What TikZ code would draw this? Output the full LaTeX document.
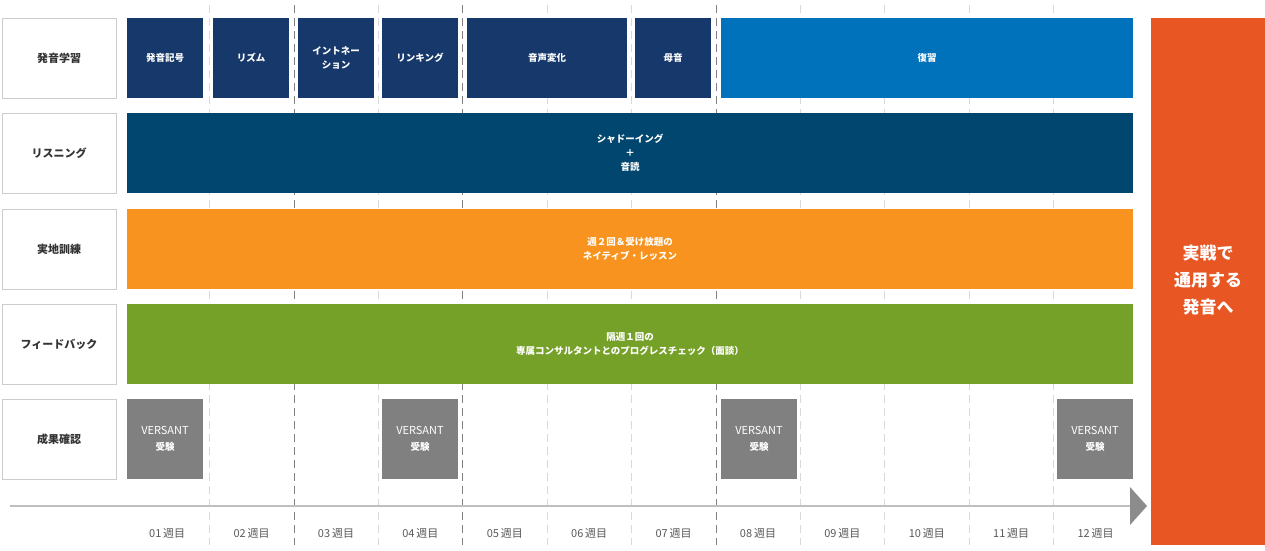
\documentclass[tikz,border=0pt]{standalone}
\usepackage{fontspec}
\setmainfont{Noto Sans CJK JP}
\usetikzlibrary{positioning}
\definecolor{navy}{HTML}{17386A}
\definecolor{lightblue}{HTML}{0072BC}
\definecolor{teal}{HTML}{00466E}
\definecolor{orng}{HTML}{F7931E}
\definecolor{grn}{HTML}{76A128}
\definecolor{redorange}{HTML}{E85623}
\definecolor{gry}{HTML}{808080}
\tikzset{
  rowlabel/.style={draw=black!20, line width=1pt, minimum width=114pt, minimum height=80pt, font=\bfseries\fontsize{11}{13}\selectfont, text=black!80},
  bar/.style={minimum height=80pt, inner sep=0pt, text=white, align=center, font=\bfseries\fontsize{9.5}{14}\selectfont},
  weeklabel/.style={text=black!65, font=\fontsize{11}{13}\selectfont}
}
\begin{document}
\begin{tikzpicture}[x=1pt, y=-1pt]
\useasboundingbox (0,0) rectangle (1265,550);
% week separators
\foreach \i in {1,...,11} {
  \pgfmathsetmacro{\xx}{125+84.4*\i}
  \draw[black!15, dashed, dash pattern=on 8pt off 5pt] (\xx,5) -- (\xx,545);
}
\foreach \i in {2,4,7}
  \draw[black!50, dash pattern=on 8pt off 5pt] ({125+84.4*\i},5) -- ({125+84.4*\i},545);
% row labels
\node[rowlabel] (l1) at (59,58) {発音学習};
\node[rowlabel] (l2) at (59,153) {リスニング};
\node[rowlabel] (l3) at (59,249) {実地訓練};
\node[rowlabel] (l4) at (59,344) {フィードバック};
\node[rowlabel] (l5) at (59,439) {成果確認};
% pronunciation row
\node[bar, fill=navy, minimum width=76pt] (b1) at (165,58) {発音記号};
\node[bar, fill=navy, minimum width=76pt] (b2) at (251,58) {リズム};
\node[bar, fill=navy, minimum width=76pt] (b3) at (336,58) {イントネー\\ション};
\node[bar, fill=navy, minimum width=76pt] (b4) at (420,58) {リンキング};
\node[bar, fill=navy, minimum width=160pt] (b5) at (547,58) {音声変化};
\node[bar, fill=navy, minimum width=76pt] (b6) at (673,58) {母音};
\node[bar, fill=lightblue, minimum width=412pt] (b7) at (927,58) {復習};
% full bars
\node[bar, fill=teal, minimum width=1006pt] (r2) at (630,153) {シャドーイング\\＋\\音読};
\node[bar, fill=orng, minimum width=1006pt] (r3) at (630,249) {週２回＆受け放題の\\ネイティブ・レッスン};
\node[bar, fill=grn, minimum width=1006pt] (r4) at (630,344) {隔週１回の\\専属コンサルタントとのプログレスチェック（面談）};
% tests
\foreach \n/\xc in {v1/165, v2/420, v3/759, v4/1095}
  \node[bar, fill=gry, minimum width=76pt, font=\fontsize{9.5}{16}\selectfont] (\n) at (\xc,439) {\fontsize{11}{16}\selectfont VERSANT\\\bfseries 受験};
% timeline
\draw[black!25, line width=2pt] (10,506) -- (1131,506);
\fill[black!45] (1130,487) -- (1147,506) -- (1130,525) -- cycle;
\foreach \i in {1,...,12} {
  \pgfmathtruncatemacro{\k}{\i}
  \node[weeklabel] (w\i) at ({125+84.4*(\i-0.5)},533) {\ifnum\k<10 0\fi\k\,週目};
}
% goal
\fill[redorange] (1151,18) rectangle (1265,545);
\node[text=white, align=center, font=\bfseries\fontsize{17}{27}\selectfont] (goal) at (1208,280) {実戦で\\通用する\\発音へ};
\end{tikzpicture}
\end{document}
